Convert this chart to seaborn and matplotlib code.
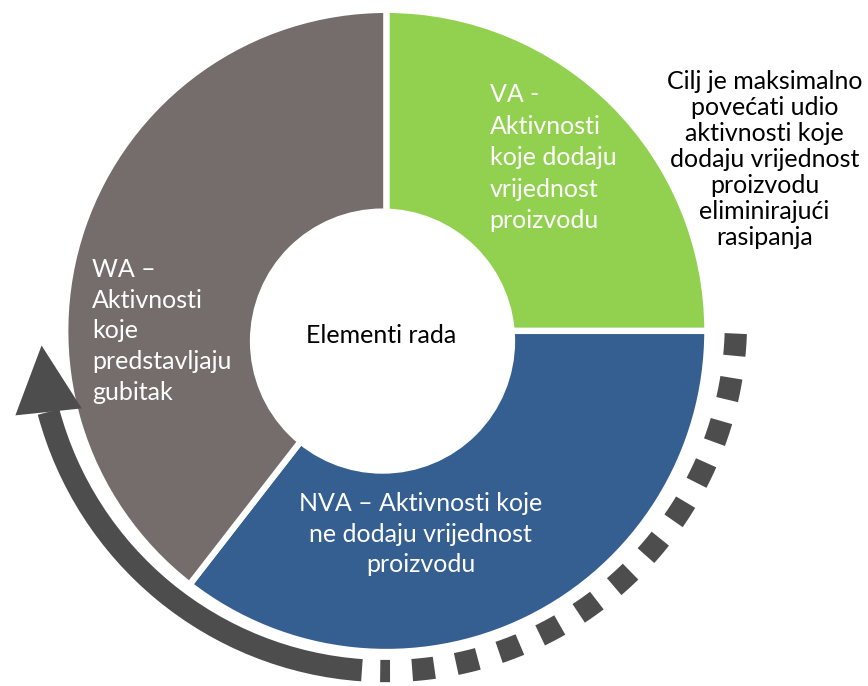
import numpy as np
import matplotlib
matplotlib.use("Agg")
import matplotlib.pyplot as plt
import seaborn as sns
from matplotlib.patches import Circle, Wedge, Polygon

# segments, clockwise from the top
segments = ["VA", "NVA", "WA"]
shares = [25.0, 35.5, 39.5]
colors = ["#92D050", "#365F91", "#746D6C"]
labels = [
    "VA -\nAktivnosti\nkoje dodaju\nvrijednost\nproizvodu",
    "NVA – Aktivnosti koje\nne dodaju vrijednost\nproizvodu",
    "WA –\nAktivnosti\nkoje\npredstavljaju\ngubitak",
]
center_label = "Elementi rada"
note = ("Cilj je maksimalno\npovećati udio\naktivnosti koje\ndodaju vrijednost\n"
        "proizvodu\neliminirajući\nrasipanja")

sns.set_theme(style="white")
plt.rcParams["font.family"] = ["Lato", "DejaVu Sans"]
plt.rcParams["lines.scale_dashes"] = False

fig = plt.figure(figsize=(8.68, 6.86), dpi=100)
ax = fig.add_axes([0, 0, 1, 1])

# donut
ax.pie(shares, colors=colors, startangle=90, counterclock=False, radius=1.01,
       wedgeprops=dict(edgecolor="white", linewidth=4.5))
ax.add_patch(Circle((-0.012, -0.032), 0.415, color="white", zorder=3))

# pie() resets the limits, so set them afterwards
ax.set_xlim(-1.215, 1.515)
ax.set_ylim(-1.117, 1.041)
ax.set_aspect("equal")
ax.axis("off")

# arrows around the donut
arc_c = (0.0, 0.03)
r_in, r_out = 1.065, 1.135
arrow_col = "#4D4D4D"
ax.add_patch(Wedge(arc_c, r_out, -165, -94, width=r_out - r_in,
                   color=arrow_col, lw=0))
th = np.deg2rad(-165)
rm = (r_in + r_out) / 2
base = np.array([arc_c[0] + rm * np.cos(th), arc_c[1] + rm * np.sin(th)])
th_h = th - np.deg2rad(9)  # head is turned a bit more upright
tang = np.array([np.sin(th_h), -np.cos(th_h)])
norm = np.array([np.cos(th_h), np.sin(th_h)])
head = [base + 0.105 * norm, base - 0.105 * norm, base + 0.21 * tang]
ax.add_patch(Polygon(head, closed=True, color=arrow_col, lw=0))

t = np.deg2rad(np.linspace(-2, -91, 200))
ax.plot(arc_c[0] + rm * np.cos(t), arc_c[1] + rm * np.sin(t), color=arrow_col,
        lw=(r_out - r_in) * 318 * 0.72, dashes=(16, 16), solid_capstyle="butt",
        dash_capstyle="butt")

# texts
txt = dict(color="white", fontsize=18, zorder=5)
ax.text(0.325, 0.545, labels[0], ha="left", va="center", linespacing=1.45, **txt)
ax.text(0.108, -0.64, labels[1], ha="center", va="center", linespacing=1.4, **txt)
ax.text(-0.926, 0.0, labels[2], ha="left", va="center", linespacing=1.4, **txt)
ax.text(-0.017, -0.013, center_label, ha="center", va="center", fontsize=18,
        color="black", zorder=5)
ax.text(1.19, 0.54, note, ha="center", va="center", fontsize=18,
        linespacing=1.16, color="black")

fig.savefig("out.png", dpi=100)
